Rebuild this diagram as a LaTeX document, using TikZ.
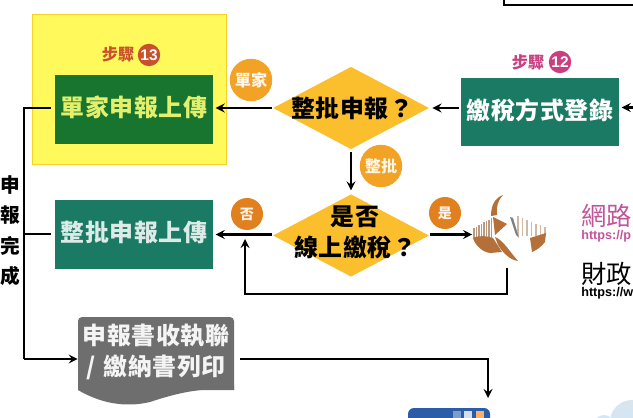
\documentclass[tikz,border=0pt]{standalone}
\usepackage{fontspec}
\usetikzlibrary{shapes.geometric}
\newfontfamily\cjk[LetterSpace=2.6]{Noto Sans CJK TC}
\newfontfamily\cjkplain{Noto Sans CJK TC}
\newfontfamily\urlfont{Liberation Sans}
\definecolor{markyellow}{HTML}{FFF95C}
\definecolor{markedge}{HTML}{F6D32A}
\definecolor{darkgreen}{HTML}{17752F}
\definecolor{teal}{HTML}{1A7A64}
\definecolor{lime}{HTML}{E4F06C}
\definecolor{diayellow}{HTML}{FBBE2C}
\definecolor{tagorange}{HTML}{F2A224}
\definecolor{dotorange}{HTML}{E0801E}
\definecolor{stepred}{HTML}{C8502C}
\definecolor{steppink}{HTML}{C93F80}
\definecolor{docgray}{HTML}{6E6E6E}
\definecolor{logobrown}{HTML}{B5703A}
\definecolor{stripe}{HTML}{B99A80}
\definecolor{sitepink}{HTML}{C2559A}
\definecolor{winblue}{HTML}{2A5CA8}
\definecolor{cloudblue}{HTML}{D5E6F2}
\tikzset{
    flow/.style={->, >=stealth, line width=1.8pt, black},
    plainline/.style={line width=1.8pt, black},
    stepbox/.style={minimum width=39.3mm, minimum height=17.2mm, inner sep=0pt, text height=4.4mm, text depth=0.8mm, text=white, font=\cjk\bfseries\fontsize{17}{18}\selectfont},
    quest/.style={diamond, fill=diayellow, minimum width=39mm, minimum height=20.6mm, aspect=1.9, inner sep=0pt},
    questtext/.style={align=center, inner sep=0pt, text=black, font=\cjk\bfseries\fontsize{17}{22}\selectfont},
    tag/.style={circle, fill=tagorange, minimum size=10.6mm, inner sep=0pt, text=white!90!tagorange, font=\cjkplain\bfseries\fontsize{11.5}{12}\selectfont},
    dot/.style={circle, fill=dotorange, minimum size=8mm, inner sep=0pt, text=white!90!dotorange, font=\cjkplain\bfseries\fontsize{10}{12}\selectfont},
    numdot/.style={circle, minimum size=5.6mm, inner sep=0pt, text=white, font=\urlfont\bfseries\fontsize{11}{12}\selectfont},
    steptext/.style={inner sep=0pt, font=\cjkplain\bfseries\fontsize{11.5}{12}\selectfont},
    sidechar/.style={inner sep=0pt, text=black, font=\cjkplain\bfseries\fontsize{14}{16}\selectfont},
    sitename/.style={anchor=west, inner sep=0pt, font=\cjkplain\fontsize{18}{20}\selectfont},
    siteurl/.style={anchor=west, inner sep=0pt, font=\urlfont\bfseries\fontsize{9}{10}\selectfont}
}
\begin{document}
\begin{tikzpicture}[x=0.25mm, y=-0.25mm]
    \useasboundingbox (0,0) rectangle (633,418);

    % Frame at the top right
    \draw[line width=1.4pt] (504,-3) -- (504,5) -- (640,5);

    % Marked area with step 13
    \node[fill=markyellow, draw=markedge, line width=0.8pt, minimum width=48.6mm, minimum height=37.6mm, inner sep=0pt] (mark13) at (129.5,89.5) {};
    \node[steptext, text=stepred] (step13) at (118,54) {步驟};
    \node[numdot, fill=stepred] (num13) at (149,55) {13};
    \node[stepbox, fill=darkgreen, text=lime] (box13) at (134,109.5) {單家申報上傳};

    % Step 12
    \node[steptext, text=steppink] (step12) at (528,62) {步驟};
    \node[numdot, fill=steppink] (num12) at (560,62) {12};
    \node[stepbox, fill=teal] (box12) at (540,112) {繳稅方式登錄};

    % Decisions
    \node[quest] (dia1) at (351,108) {};
    \node[questtext] (dia1text) at (352,108) {整批申報？};
    \node[quest] (dia2) at (351,235.5) {};
    \node[questtext] (dia2text) at (355,232) {是否\\線上繳稅？};

    % Batch upload box
    \node[stepbox, fill=teal, text=white!85!teal] (box2) at (134,234.5) {整批申報上傳};

    % Round tags
    \node[tag] (tagsingle) at (251,80) {單家};
    \node[tag] (tagbatch) at (381,166) {整批};
    \node[dot] (tagno) at (247,214) {否};
    \node[dot] (tagyes) at (445,213) {是};

    % Side text
    \node[sidechar] (side1) at (10,185) {申};
    \node[sidechar] (side2) at (10,215) {報};
    \node[sidechar] (side3) at (10,246) {完};
    \node[sidechar] (side4) at (10,276) {成};

    % Printed sheet
    \fill[docgray, rounded corners=1mm] (78,390) -- (78,317) -- (234,317) -- (234,390);
    \fill[docgray] (78,385) -- (78,390) .. controls (100,403) and (125,408) .. (150,402) .. controls (180,392) and (205,387) .. (234,390) -- (234,385) -- cycle;
    \node[minimum width=39mm, inner sep=0pt, questtext, text=white!92!docgray] (doc) at (156,352) {申報書收執聯\\/\hspace{0.35em}繳納書列印};

    % Logo
    \node[minimum width=18.8mm, minimum height=16.8mm, inner sep=0pt] (logo) at (510,228.5) {};
    \foreach \px in {474,476.5,...,492}
        \draw[stripe, line width=1.1pt] (\px,{228-(\px-474)*0.55}) -- (\px,238);
    \foreach \px in {518,522.5,...,545}
        \draw[stripe!70!white, line width=1.3pt] (\px,{216+(\px-518)*0.42}) -- (\px,236);
    \fill[logobrown] (503,195) .. controls (495,198) and (491,205) .. (491,216) -- (497,215) .. controls (496,207) and (498,200) .. (503,195) -- cycle;
    \fill[logobrown] (493,217) -- (507,224) -- (495,235) -- cycle;
    \fill[logobrown] (473,238) .. controls (480,235) and (487,236) .. (493,238) -- (502,252) -- (490,253) .. controls (482,252) and (475,245) .. (473,238) -- cycle;
    \fill[logobrown] (495,237) .. controls (503,240) and (510,252) .. (518,261) .. controls (510,260) and (503,253) .. (498,245) -- cycle;
    \fill[logobrown] (530,238) -- (546,233) -- (545,242) .. controls (541,247) and (537,250) .. (532,252) -- cycle;
    \fill[gray] (510,217) -- (513,218) -- (519,238) -- (516,235) -- cycle;

    % Website texts
    \node[sitename, text=sitepink] (site1) at (581,216) {網路};
    \node[siteurl, text=sitepink] (url1) at (581,236) {https://p};
    \node[sitename, text=black] (site2) at (581,274) {財政};
    \node[siteurl, text=black] (url2) at (581,293) {https://w};

    % Window and cloud at the bottom
    \fill[winblue, rounded corners=1.5mm] (408,425) -- (408,408) -- (490,408) -- (490,425) -- cycle;
    \node[fill=winblue!60!white, minimum width=2mm, minimum height=2mm, inner sep=0pt] (winmin) at (457,415) {};
    \node[fill=white!80!winblue, minimum width=2mm, minimum height=2mm, inner sep=0pt] (winmax) at (468,415) {};
    \node[fill=orange!60!white, minimum width=2mm, minimum height=2mm, inner sep=0pt] (winclose) at (480,415) {};
    \fill[cloudblue] (632,422) circle (22);
    \fill[cloudblue] (604,426) circle (11);

    % Named free ends
    \coordinate (busone) at (24,108);
    \coordinate (bustwo) at (24,234);
    \coordinate (busend) at (24,359);
    \coordinate (rightin) at (633,107.5);
    \coordinate (retstart) at (507,268);
    \coordinate (retcorner) at (245,294);
    \coordinate (retend) at (245,239);
    \coordinate (printcorner) at (488,359);
    \coordinate (printend) at (488,398);

    % Connectors
    \draw[flow, shorten >=0.7mm] (rightin) -- (rightin -| box12.east);
    \draw[flow, shorten <=0.6mm, shorten >=0.8mm] (box12.west |- dia1.east) -- (dia1.east);
    \draw[flow, shorten <=0.3mm, shorten >=0.7mm] (dia1.west) -- (dia1.west -| box13.east);
    \draw[flow, shorten <=0.7mm, shorten >=0.9mm] (dia1.south) -- (dia2.north);
    \draw[flow, shorten <=0.3mm, shorten >=0.7mm] (dia2.west |- box2.east) -- (box2.east);
    \draw[flow, shorten <=0.2mm] (dia2.east |- box2.east) -- (logo.west |- box2.east);
    \draw[flow] (retstart) |- (retcorner) -- (retend);
    \draw[plainline, shorten <=1mm] (box13.west |- busone) -- (busone) -- (busend);
    \draw[plainline, shorten <=1mm] (box2.west |- bustwo) -- (bustwo);
    \draw[flow] (busend) -- (busend -| doc.west);
    \draw[flow, shorten <=1.5mm] (doc.east |- printcorner) -- (printcorner) -- (printend);
\end{tikzpicture}
\end{document}
